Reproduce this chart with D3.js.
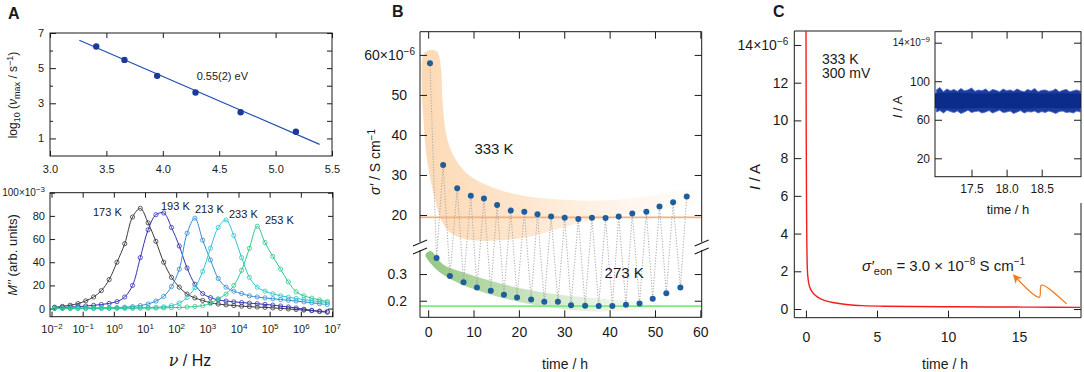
<!DOCTYPE html>
<html>
<head>
<meta charset="utf-8">
<script src="https://cdn.jsdelivr.net/npm/d3@7"></script>
<style>
  body { margin: 0; background: #fff; }
  svg { display: block; }
</style>
</head>
<body>
<svg id="fig" width="1084" height="372"></svg>
<script>
// ---------- data: panel A (top) ----------
const invT = [3.41, 3.66, 3.95, 4.29, 4.69, 5.18];
const logNuMax = [6.23, 5.47, 4.56, 3.61, 2.49, 1.38];
const fitInvT = [3.26, 5.39];
const fitLogNu = [6.59, 0.66];

// ---------- data: panel A (bottom), M'' vs log10(frequency) ----------
const logNu = [-1.9, -1.65, -1.4, -1.15, -0.9, -0.65, -0.4, -0.15, 0.1, 0.35, 0.6, 0.85,
  1.1, 1.35, 1.6, 1.85, 2.1, 2.35, 2.6, 2.85, 3.1, 3.35, 3.6, 3.85,
  4.1, 4.35, 4.6, 4.85, 5.1, 5.35, 5.6, 5.85, 6.1, 6.35, 6.6, 6.85];
const m173 = [1.2, 1.9, 2.9, 4.3, 6.7, 10, 15.5, 25, 40, 56, 79, 86.5, 74, 58, 40, 27, 18.5, 12.5,
  9.2, 7.0, 5.0, 3.9, 3.2, 2.6, 2.1, 1.7, 1.3, 1.0, 0.6, 0.2, -0.3, -0.8, -1.3, -1.8, -2.2, -2.5];
const m193 = [0.8, 1.0, 1.3, 1.7, 2.2, 2.8, 3.5, 4.5, 6.0, 10, 20, 44, 68, 81, 82.5, 70, 54, 35,
  21, 13, 9.5, 7.5, 6.5, 5.8, 5.2, 4.7, 4.2, 3.6, 3.0, 2.2, 1.4, 0.5, -0.5, -1.5, -2.5, -3.2];
const m213 = [0.3, 0.3, 0.4, 0.4, 0.5, 0.5, 0.6, 0.7, 0.9, 1.2, 1.7, 2.6, 4.0, 6.5, 10.5, 19, 34, 65,
  78, 59, 42, 26, 18.5, 15, 13, 11, 10, 9.2, 8.5, 7.8, 7.2, 6.5, 5.8, 5.0, 4.2, 3.5];
const m233 = [0.3, 0.3, 0.3, 0.3, 0.3, 0.4, 0.4, 0.4, 0.5, 0.5, 0.6, 0.7, 0.9, 1.1, 1.5, 2.5, 4.8, 9.5,
  18, 32, 52, 70, 76.5, 63, 44, 27, 18.5, 15, 12.8, 11, 9.8, 8.7, 7.8, 6.8, 6.0, 5.2];
const m253 = [0.2, 0.2, 0.2, 0.2, 0.2, 0.2, 0.3, 0.3, 0.3, 0.3, 0.3, 0.4, 0.4, 0.5, 0.6, 0.8, 1.0, 1.3,
  1.8, 2.6, 4.5, 8.5, 12.5, 20, 33, 52, 71, 57, 45, 34, 23, 14.5, 11, 9, 7.5, 6];
const mLabels = ['173 K', '193 K', '213 K', '233 K', '253 K'];
const mColors = ['#3a3a3a', '#3434b4', '#2f8fd6', '#2cc6cf', '#2fc98a'];

// ---------- data: panel B ----------
const time333 = [0.4, 3.3, 6.4, 9.4, 12.3, 15.2, 18.2, 21.2, 24.1, 27.1, 30.1, 33.1, 36.1, 39.1, 42.0, 45.0, 48.1, 51.0, 54.0, 57.0];
const sigma333 = [57.9, 32.5, 26.7, 24.8, 24.1, 22.5, 21.1, 20.8, 20.2, 19.6, 19.3, 19.0, 19.3, 19.25, 19.6, 20.4, 20.8, 22.1, 23.2, 24.6];
const time273 = [1.85, 4.8, 7.8, 10.75, 13.8, 16.7, 19.6, 22.7, 25.6, 28.6, 31.5, 34.6, 37.6, 40.6, 43.6, 46.6, 49.5, 52.5, 55.6];
const sigma273 = [0.36, 0.293, 0.269, 0.25, 0.2375, 0.2225, 0.2125, 0.205, 0.196, 0.196, 0.1835, 0.181, 0.18, 0.18, 0.185, 0.19, 0.2075, 0.228, 0.25];
const limit333 = 19.4;
const limit273 = 0.18;
const band333 = [[-1.4, 52], [-1.0, 60.2], [0.5, 61.2], [2.0, 60.8], [2.8, 57], [3.2, 48], [4.0, 40], [5.5, 35],
  [8, 31], [11, 28.5], [16, 26.2], [22, 24.6], [30, 23.8], [38, 23.6], [46, 24.3], [52, 25.3], [57, 26.3],
  [59, 26], [59.5, 24], [58.5, 22.5], [52, 21.5], [44, 20.2], [36, 18.7], [29, 16.7], [22, 14.5], [15, 13.6],
  [9, 13.8], [5, 15.5], [3, 18.5], [1.5, 24], [0.5, 29], [-0.5, 36], [-1.1, 45]];
const band273 = [[-0.6, 0.372], [0.5, 0.386], [3.3, 0.336], [7, 0.31], [14.3, 0.272], [21.7, 0.242], [29, 0.222],
  [36.4, 0.21], [44, 0.2], [51, 0.192], [53, 0.183], [51, 0.172], [44, 0.163], [36.4, 0.16], [29, 0.171],
  [21.7, 0.19], [14.3, 0.221], [7, 0.264], [2.6, 0.306], [0, 0.352]];

// ---------- data: panel C ----------
const timeC = [0.0, 0.02, 0.04, 0.06, 0.08, 0.1, 0.15, 0.2, 0.3, 0.45, 0.7, 1.0, 1.4, 2.0, 3.0, 4.0, 5.5, 7.5, 10, 13, 16, 19.3];
const currentC = [16, 9, 5.5, 3.6, 2.6, 2.1, 1.6, 1.35, 1.1, 0.9, 0.7, 0.55, 0.43, 0.33, 0.23, 0.18, 0.15, 0.13, 0.12, 0.11, 0.1, 0.09];
const arrowT = [18.35, 16.58, 16.42, 14.65];
const arrowI = [0.27, 1.27, 0.62, 1.77];
const timeNoise = [17.00, 17.05, 17.10, 17.15, 17.20, 17.25, 17.30, 17.35, 17.40, 17.45, 17.50, 17.55, 17.60, 17.65,
  17.70, 17.75, 17.80, 17.85, 17.90, 17.95, 18.00, 18.05, 18.10, 18.15, 18.20, 18.25, 18.30, 18.35,
  18.40, 18.45, 18.50, 18.55, 18.60, 18.65, 18.70, 18.75, 18.80, 18.85, 18.90, 18.95, 19.00, 19.05];
const noiseHigh = [91, 93.5, 89, 92, 90, 91.5, 89.5, 92.5, 90, 91, 93, 89.5, 91, 90, 92, 89, 91.5, 90.5, 89, 92, 90,
  91, 89.5, 92, 90, 89, 91.5, 90, 92.5, 89, 90.5, 91, 89.5, 90, 92, 89, 90.5, 91.5, 89, 90, 91, 89.5];
const noiseLow = [68, 69.5, 67, 70, 68.5, 67.5, 69, 66.5, 68, 70, 67.5, 68.5, 69, 67, 68, 69.5, 67, 68.5, 70, 67.5, 68,
  69, 66.5, 68, 69.5, 67, 68.5, 68, 69, 67, 68.5, 67.5, 69, 68, 66.5, 68.5, 69, 67.5, 68, 67, 69, 68];
const timeCore = [16.98, 17.3, 17.6, 17.9, 18.2, 18.5, 18.8, 19.06];
const coreHigh = [87.5, 88, 87, 87.5, 88, 87, 87.5, 87];
const coreLow = [72, 71.5, 72.5, 72, 71.5, 72.5, 72, 72];

const FONT = '"Liberation Sans", Arial, Helvetica, sans-serif';
const INK = '#1a1a1a';
const svg = d3.select('#fig').attr('font-family', FONT);
const defs = svg.append('defs');

function styleAxis(g, size) {
  g.attr('font-family', FONT).attr('font-size', size);
  g.select('.domain').remove();
  g.selectAll('.tick line').attr('stroke', INK);
  g.selectAll('.tick text').attr('fill', INK);
  return g;
}
function supText(text, base, exp, expSize) {
  text.text(null);
  text.append('tspan').text(base);
  text.append('tspan').attr('dy', '-0.5em').attr('font-size', expSize).text(exp);
}
function frame(g, x0, x1, y0, y1) {
  g.append('rect').attr('x', x0).attr('y', y0).attr('width', x1 - x0).attr('height', y1 - y0)
    .attr('fill', 'none').attr('stroke', INK).attr('stroke-width', 1);
}
function letter(x, y, t) {
  svg.append('text').attr('x', x).attr('y', y).attr('font-size', 16).attr('font-weight', 'bold').attr('fill', INK).text(t);
}

// ================= Panel A top =================
const xA = d3.scaleLinear([3.0, 5.5], [50, 332]);
const yA = d3.scaleLinear([0, 7], [156, 33]);
const gA = svg.append('g');
frame(gA, 50, 332, 33, 156);
styleAxis(gA.append('g').attr('transform', 'translate(50,0)')
  .call(d3.axisLeft(yA).tickValues([1, 3, 5, 7]).tickSize(-6).tickPadding(6).tickFormat(d3.format('d'))), 11);
styleAxis(gA.append('g').attr('transform', 'translate(50,0)')
  .call(d3.axisLeft(yA).tickValues([2, 4, 6]).tickSize(-3).tickFormat('')), 11);
styleAxis(gA.append('g').attr('transform', 'translate(332,0)')
  .call(d3.axisRight(yA).tickValues([1, 2, 3, 4, 5, 6, 7]).tickSize(-5).tickFormat('')), 11);
styleAxis(gA.append('g').attr('transform', 'translate(0,156)')
  .call(d3.axisBottom(xA).tickValues([3, 3.5, 4, 4.5, 5, 5.5]).tickSize(-5).tickPadding(9).tickFormat(d3.format('.1f'))), 11);
styleAxis(gA.append('g').attr('transform', 'translate(0,33)')
  .call(d3.axisTop(xA).tickValues([3, 3.5, 4, 4.5, 5, 5.5]).tickSize(-5).tickFormat('')), 11);

gA.append('path')
  .attr('d', d3.line().x(d => xA(d[0])).y(d => yA(d[1]))(d3.zip(fitInvT, fitLogNu)))
  .attr('stroke', '#2350b4').attr('stroke-width', 1.2).attr('fill', 'none');
gA.selectAll('circle.pt').data(d3.zip(invT, logNuMax)).join('circle')
  .attr('cx', d => xA(d[0])).attr('cy', d => yA(d[1])).attr('r', 3.2).attr('fill', '#1c3a9c');
gA.append('text').attr('x', xA(4.3)).attr('y', yA(4.35)).attr('font-size', 11).attr('fill', INK).text('0.55(2) eV');

const yLabA = gA.append('text').attr('transform', 'translate(17,95) rotate(-90)')
  .attr('text-anchor', 'middle').attr('font-size', 12).attr('fill', INK);
yLabA.append('tspan').text('log');
yLabA.append('tspan').attr('font-size', 9).attr('dy', 3).text('10');
yLabA.append('tspan').attr('dy', -3).text(' (');
yLabA.append('tspan').attr('font-style', 'italic').text('ν');
yLabA.append('tspan').attr('font-size', 9).attr('dy', 3).text('max');
yLabA.append('tspan').attr('dy', -3).text(' / s');
yLabA.append('tspan').attr('font-size', 9).attr('dy', -4).text('−1');
yLabA.append('tspan').attr('dy', 4).text(')');

// ================= Panel A bottom =================
const xM = d3.scaleLog([0.01, 1e7], [51.5, 332]);
const yM = d3.scaleLinear([-7, 100], [316.7, 192.7]);
const gM = svg.append('g');
frame(gM, 50, 333, 192.7, 316.7);
const decades = [1e-2, 1e-1, 1, 1e1, 1e2, 1e3, 1e4, 1e5, 1e6, 1e7];
const axMy = styleAxis(gM.append('g').attr('transform', 'translate(50,0)')
  .call(d3.axisLeft(yM).tickValues([0, 20, 40, 60, 80, 100]).tickSize(-5).tickPadding(5)), 11);
axMy.selectAll('.tick text').filter(d => d === 100).each(function () { supText(d3.select(this), '100×10', '−3', 8); })
  .attr('font-size', 10);
styleAxis(gM.append('g').attr('transform', 'translate(333,0)')
  .call(d3.axisRight(yM).tickValues([0, 20, 40, 60, 80, 100]).tickSize(-5).tickFormat('')), 11);
const axMx = styleAxis(gM.append('g').attr('transform', 'translate(0,316.7)')
  .call(d3.axisBottom(xM).tickValues(decades).tickSize(-5).tickPadding(9)), 11);
axMx.selectAll('.tick text').each(function (d) {
  supText(d3.select(this), '10', String(Math.round(Math.log10(d))).replace('-', '−'), 8);
});
styleAxis(gM.append('g').attr('transform', 'translate(0,192.7)')
  .call(d3.axisTop(xM).tickValues(decades).tickSize(-5).tickFormat('')), 11);

[m173, m193, m213, m233, m253].forEach((vals, i) => {
  const pts = d3.zip(logNu, vals);
  gM.append('path')
    .attr('d', d3.line().x(d => xM(10 ** d[0])).y(d => yM(d[1])).curve(d3.curveCatmullRom.alpha(0.5))(pts))
    .attr('fill', 'none').attr('stroke', mColors[i]).attr('stroke-width', 1);
  gM.append('g').selectAll('circle').data(pts).join('circle')
    .attr('cx', d => xM(10 ** d[0])).attr('cy', d => yM(d[1])).attr('r', 2.1)
    .attr('fill', 'none').attr('stroke', mColors[i]).attr('stroke-width', 0.8);
});
const mLabelPos = [[93, 216], [161, 210], [195, 213], [229, 218], [265, 224]];
mLabels.forEach((t, i) => {
  gM.append('text').attr('x', mLabelPos[i][0]).attr('y', mLabelPos[i][1]).attr('font-size', 11).attr('fill', INK).text(t);
});
const yLabM = gM.append('text').attr('transform', 'translate(17,255) rotate(-90)')
  .attr('text-anchor', 'middle').attr('font-size', 13).attr('fill', INK);
yLabM.append('tspan').attr('font-style', 'italic').text('M′′');
yLabM.append('tspan').text(' (arb. units)');
const xLabM = gM.append('text').attr('x', 190).attr('y', 366).attr('text-anchor', 'middle').attr('font-size', 16).attr('fill', INK);
xLabM.append('tspan').attr('font-style', 'italic').attr('font-family', '"DejaVu Serif", serif').text('ν');
xLabM.append('tspan').text(' / Hz');
letter(8, 19, 'A');

// ================= Panel B =================
const xB = d3.scaleLinear([-1.8, 60.3], [420, 701.7]);
const yB = d3.scaleLinear([0.138, 0.39, 13.25, 65.8], [317.3, 250, 242, 31.7]);
const gB = svg.append('g');

const gradO = defs.append('linearGradient').attr('id', 'gradO');
gradO.append('stop').attr('offset', '0').attr('stop-color', '#fcdab5').attr('stop-opacity', 1);
gradO.append('stop').attr('offset', '0.35').attr('stop-color', '#fde0c2').attr('stop-opacity', 0.85);
gradO.append('stop').attr('offset', '1').attr('stop-color', '#fff0e2').attr('stop-opacity', 0.2);
const gradG = defs.append('linearGradient').attr('id', 'gradG');
gradG.append('stop').attr('offset', '0').attr('stop-color', '#8cc479').attr('stop-opacity', 0.95);
gradG.append('stop').attr('offset', '0.45').attr('stop-color', '#a8d398').attr('stop-opacity', 0.6);
gradG.append('stop').attr('offset', '1').attr('stop-color', '#e0f1da').attr('stop-opacity', 0.15);

const bandLine = d3.line().x(d => xB(d[0])).y(d => yB(d[1])).curve(d3.curveCatmullRomClosed.alpha(0.5));
gB.append('path').attr('d', bandLine(band333)).attr('fill', 'url(#gradO)');
gB.append('path').attr('d', bandLine(band273)).attr('fill', 'url(#gradG)');

gB.append('line').attr('x1', 420).attr('x2', 701.7).attr('y1', yB(limit333)).attr('y2', yB(limit333))
  .attr('stroke', '#f6b07a').attr('stroke-width', 1.6);
gB.append('line').attr('x1', 420).attr('x2', 701.7).attr('y1', yB(limit273)).attr('y2', yB(limit273))
  .attr('stroke', '#84e684').attr('stroke-width', 1.6);

const allB = d3.zip(time333, sigma333).concat(d3.zip(time273, sigma273)).sort((a, b) => a[0] - b[0]);
gB.append('path').attr('d', d3.line().x(d => xB(d[0])).y(d => yB(d[1]))(allB))
  .attr('fill', 'none').attr('stroke', '#a8a8a8').attr('stroke-width', 1).attr('stroke-dasharray', '1.2,1.6');
gB.append('g').selectAll('circle').data(allB).join('circle')
  .attr('cx', d => xB(d[0])).attr('cy', d => yB(d[1])).attr('r', 3).attr('fill', '#1f5e9c');

// frame with break
const bTop = 31.7, bBot = 317.3, bL = 420, bR = 701.7, brkA = yB(13.25), brkB = yB(0.39);
[[bL, bTop, bR, bTop], [bL, bBot, bR, bBot], [bL, bTop, bL, brkA], [bL, brkB, bL, bBot],
 [bR, bTop, bR, brkA], [bR, brkB, bR, bBot]].forEach(s => {
  gB.append('line').attr('x1', s[0]).attr('y1', s[1]).attr('x2', s[2]).attr('y2', s[3]).attr('stroke', INK);
});
[bL, bR].forEach(x => {
  [brkA + 1, brkB + 1].forEach(y => {
    gB.append('line').attr('x1', x - 7).attr('y1', y + 3).attr('x2', x + 7).attr('y2', y - 3)
      .attr('stroke', INK).attr('stroke-width', 1.1);
  });
});

const axBy = styleAxis(gB.append('g').attr('transform', `translate(${bL},0)`)
  .call(d3.axisLeft(yB).tickValues([0.2, 0.3, 20, 30, 40, 50, 60]).tickSize(-7).tickPadding(13)
    .tickFormat(d => d < 1 ? d3.format('.1f')(d) : d)), 14);
axBy.selectAll('.tick text').filter(d => d === 60).each(function () { supText(d3.select(this), '60×10', '−6', 10); })
  .attr('x', -5);
styleAxis(gB.append('g').attr('transform', `translate(${bR},0)`)
  .call(d3.axisRight(yB).tickValues([0.2, 0.3, 20, 30, 40, 50, 60]).tickSize(-7).tickFormat('')), 14);
styleAxis(gB.append('g').attr('transform', `translate(0,${bBot})`)
  .call(d3.axisBottom(xB).tickValues([0, 10, 20, 30, 40, 50, 60]).tickSize(-7).tickPadding(10)), 14);
styleAxis(gB.append('g').attr('transform', `translate(0,${bTop})`)
  .call(d3.axisTop(xB).tickValues([0, 10, 20, 30, 40, 50, 60]).tickSize(-7).tickFormat('')), 14);

gB.append('text').attr('x', xB(10.2)).attr('y', 154).attr('font-size', 15).attr('fill', INK).text('333 K');
gB.append('text').attr('x', xB(38.9)).attr('y', 278).attr('font-size', 15).attr('fill', INK).text('273 K');
const yLabB = gB.append('text').attr('transform', 'translate(380,162) rotate(-90)')
  .attr('text-anchor', 'middle').attr('font-size', 14).attr('fill', INK);
yLabB.append('tspan').attr('font-style', 'italic').text('σ′');
yLabB.append('tspan').text(' / S cm');
yLabB.append('tspan').attr('font-size', 10).attr('dy', -5).text('−1');
gB.append('text').attr('x', 565).attr('y', 369).attr('text-anchor', 'middle').attr('font-size', 14).attr('fill', INK).text('time / h');
letter(392, 17, 'B');

// ================= Panel C =================
const xC = d3.scaleLinear([-0.82, 19.36], [794.3, 1081]);
const yC = d3.scaleLinear([-0.46, 14.74], [317.7, 31]);
const gC = svg.append('g');
defs.append('clipPath').attr('id', 'clipC').append('rect')
  .attr('x', 794.3).attr('y', 31).attr('width', 1081 - 794.3).attr('height', 317.7 - 31);

const axCy = styleAxis(gC.append('g').attr('transform', 'translate(794.3,0)')
  .call(d3.axisLeft(yC).tickValues([0, 2, 4, 6, 8, 10, 12, 14]).tickSize(-7).tickPadding(6)), 14);
axCy.selectAll('.tick text').filter(d => d === 14).each(function () { supText(d3.select(this), '14×10', '−6', 10); });
styleAxis(gC.append('g').attr('transform', 'translate(1081,0)')
  .call(d3.axisRight(yC).tickValues([0, 2, 4]).tickSize(-7).tickFormat('')), 14);
styleAxis(gC.append('g').attr('transform', 'translate(0,317.7)')
  .call(d3.axisBottom(xC).tickValues([0, 5, 10, 15]).tickSize(-7).tickPadding(14)), 14);
[[794.3, 31, 794.3, 317.7], [794.3, 317.7, 1081, 317.7], [794.3, 31, 902, 31], [1081, 203, 1081, 317.7]].forEach(s => {
  gC.append('line').attr('x1', s[0]).attr('y1', s[1]).attr('x2', s[2]).attr('y2', s[3]).attr('stroke', INK);
});

gC.append('path').attr('clip-path', 'url(#clipC)')
  .attr('d', d3.line().x(d => xC(d[0])).y(d => yC(d[1])).curve(d3.curveMonotoneX)(d3.zip(timeC, currentC)))
  .attr('fill', 'none').attr('stroke', '#f41c1c').attr('stroke-width', 1.4);

defs.append('marker').attr('id', 'arrowO').attr('viewBox', '0 0 10 10').attr('refX', 8).attr('refY', 5)
  .attr('markerWidth', 9).attr('markerHeight', 9).attr('orient', 'auto').attr('markerUnits', 'userSpaceOnUse')
  .append('path').attr('d', 'M0,0 L10,5 L0,10 L3,5 Z').attr('fill', '#f07a22');
gC.append('path')
  .attr('d', d3.line().x(d => xC(d[0])).y(d => yC(d[1])).curve(d3.curveCatmullRom.alpha(0.5))(d3.zip(arrowT, arrowI)))
  .attr('fill', 'none').attr('stroke', '#f07a22').attr('stroke-width', 1.2).attr('marker-end', 'url(#arrowO)');

const eon = gC.append('text').attr('x', 862).attr('y', 271).attr('font-size', 15).attr('fill', INK);
eon.append('tspan').attr('font-style', 'italic').text('σ′');
eon.append('tspan').attr('font-size', 11).attr('dy', 4).text('eon');
eon.append('tspan').attr('dy', -4).text(' = 3.0 × 10');
eon.append('tspan').attr('font-size', 10).attr('dy', -6).text('−8');
eon.append('tspan').attr('dy', 6).text(' S cm');
eon.append('tspan').attr('font-size', 10).attr('dy', -6).text('−1');

gC.append('text').attr('x', 822).attr('y', 64).attr('font-size', 14).attr('fill', INK).text('333 K');
gC.append('text').attr('x', 822).attr('y', 78).attr('font-size', 14).attr('fill', INK).text('300 mV');
const yLabC = gC.append('text').attr('transform', 'translate(760,177) rotate(-90)')
  .attr('text-anchor', 'middle').attr('font-size', 15).attr('fill', INK);
yLabC.append('tspan').attr('font-style', 'italic').text('I');
yLabC.append('tspan').text(' / A');
gC.append('text').attr('x', 945).attr('y', 369).attr('text-anchor', 'middle').attr('font-size', 14).attr('fill', INK).text('time / h');
letter(773, 17, 'C');

// ----- inset -----
const xI = d3.scaleLinear([16.98, 19.06], [935, 1081]);
const yI = d3.scaleLinear([0.9, 151.4], [176.7, 31.7]);
const gI = svg.append('g');
gI.append('rect').attr('x', 903).attr('y', 24).attr('width', 181).attr('height', 178).attr('fill', '#fff');
gI.append('path')
  .attr('d', d3.area().x(d => xI(d[0])).y0(d => yI(d[1])).y1(d => yI(d[2]))(d3.zip(timeNoise, noiseLow, noiseHigh)))
  .attr('fill', '#1a3d9f').attr('stroke', '#4469c8').attr('stroke-width', 0.8);
gI.append('path')
  .attr('d', d3.area().x(d => xI(d[0])).y0(d => yI(d[1])).y1(d => yI(d[2]))(d3.zip(timeCore, coreLow, coreHigh)))
  .attr('fill', '#0c2b8a');
frame(gI, 935, 1081, 31.7, 176.7);
const axIy = styleAxis(gI.append('g').attr('transform', 'translate(935,0)')
  .call(d3.axisLeft(yI).tickValues([20, 60, 100, 140]).tickSize(-7).tickPadding(5)), 12);
axIy.selectAll('.tick text').filter(d => d === 140).each(function () { supText(d3.select(this), '14×10', '−9', 8); })
  .attr('font-size', 10);
styleAxis(gI.append('g').attr('transform', 'translate(1081,0)')
  .call(d3.axisRight(yI).tickValues([20, 60, 100, 140]).tickSize(-7).tickFormat('')), 12);
styleAxis(gI.append('g').attr('transform', 'translate(0,176.7)')
  .call(d3.axisBottom(xI).tickValues([17.5, 18.0, 18.5]).tickSize(-7).tickPadding(8).tickFormat(d3.format('.1f'))), 12);
styleAxis(gI.append('g').attr('transform', 'translate(0,31.7)')
  .call(d3.axisTop(xI).tickValues([17.5, 18.0, 18.5]).tickSize(-7).tickFormat('')), 12);
const yLabI = gI.append('text').attr('transform', 'translate(902,107) rotate(-90)')
  .attr('text-anchor', 'middle').attr('font-size', 13).attr('fill', INK);
yLabI.append('tspan').attr('font-style', 'italic').text('I');
yLabI.append('tspan').text(' / A');
gI.append('text').attr('x', 1008).attr('y', 214).attr('text-anchor', 'middle').attr('font-size', 13).attr('fill', INK).text('time / h');
</script>
</body>
</html>
